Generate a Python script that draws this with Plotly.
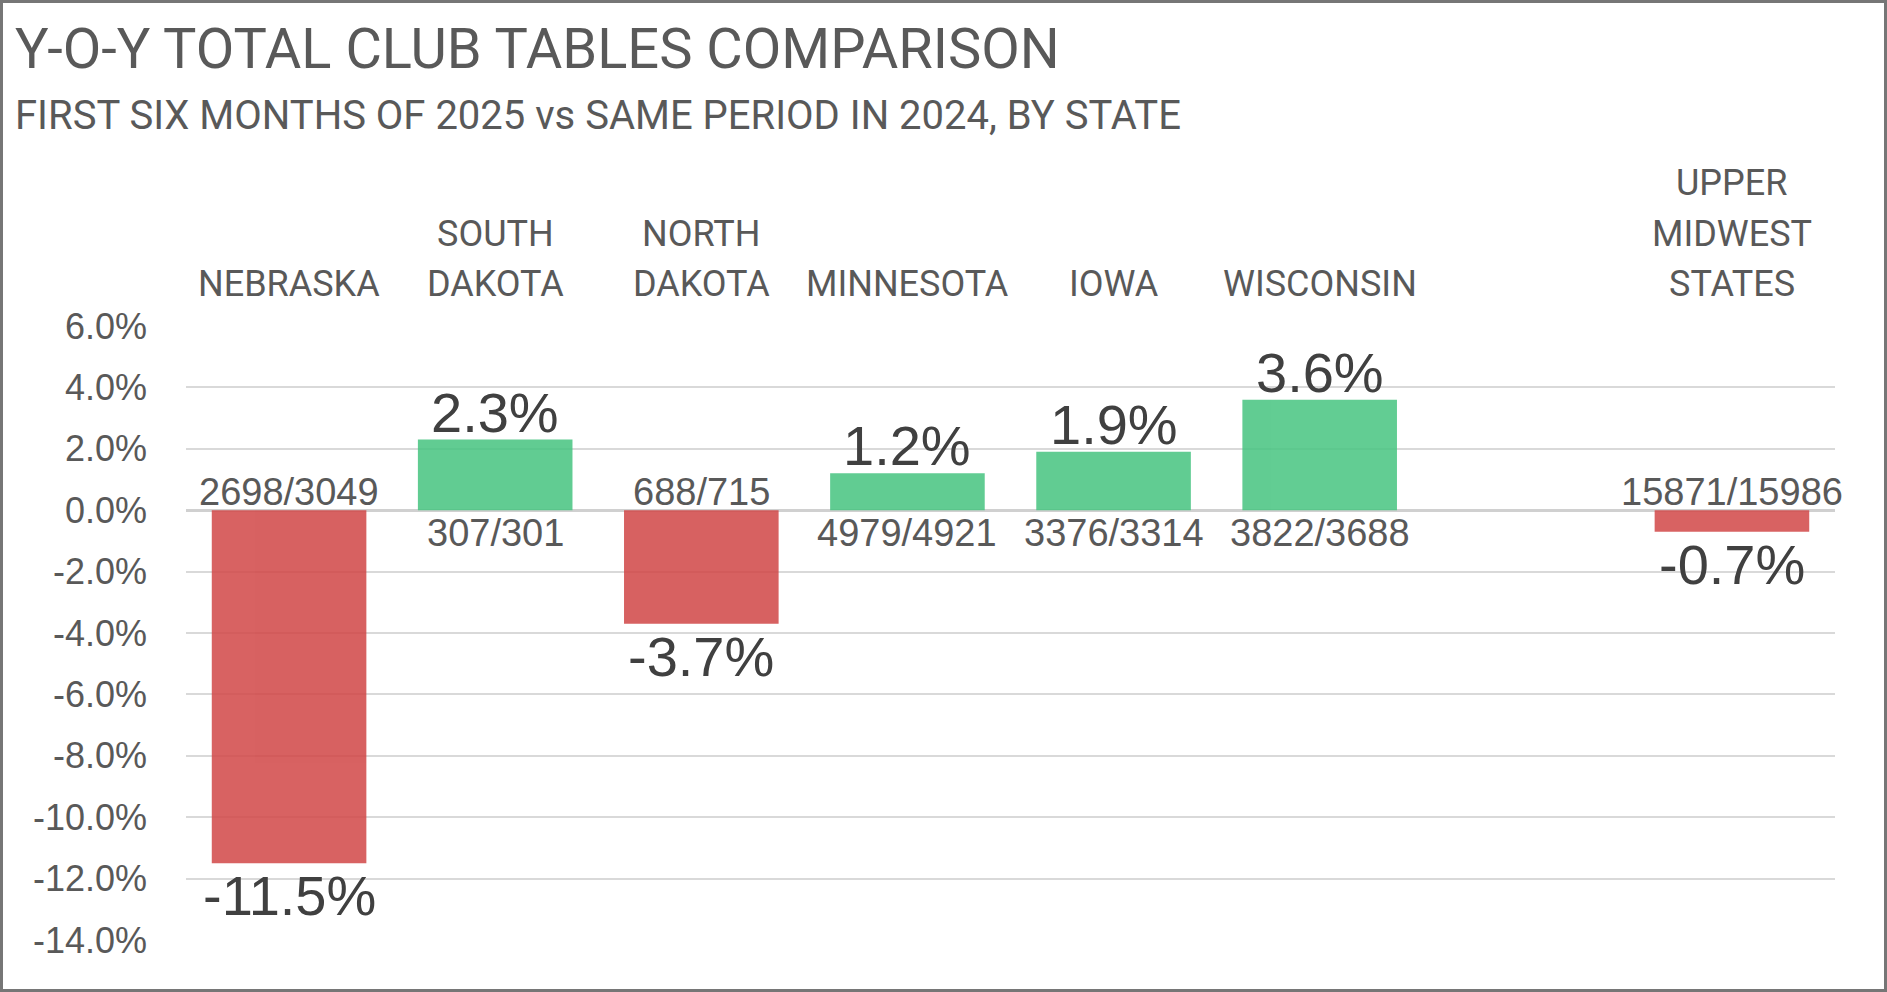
import plotly.graph_objects as go

# data
states = ["NEBRASKA", "SOUTH<br>DAKOTA", "NORTH<br>DAKOTA", "MINNESOTA", "IOWA", "WISCONSIN",
          "UPPER<br>MIDWEST<br>STATES"]
yoy_pct = [-11.5, 2.3, -3.7, 1.2, 1.9, 3.6, -0.7]
tables_2025 = [2698, 307, 688, 4979, 3376, 3822, 15871]
tables_2024 = [3049, 301, 715, 4921, 3314, 3688, 15986]
# one empty slot between WISCONSIN and the total
slots = states[:6] + [" "] + states[6:]
tick_vals = [6, 4, 2, 0, -2, -4, -6, -8, -10, -12, -14]
tick_text = ["%.1f%%" % v for v in tick_vals]

W, H = 1887, 992
ML, MR, MT, MB = 186, 52, 326, 52
PW, PH = W - ML - MR, H - MT - MB

GREEN = "rgb(70,196,128)"
RED = "rgb(209,70,70)"
GREY = "#595959"
DARK = "#404040"
SANS = "Liberation Sans, Arial, sans-serif"
NARROW = "Roboto, sans-serif"

colors = [GREEN if v >= 0 else RED for v in yoy_pct]

fig = go.Figure()
fig.add_trace(go.Bar(x=states, y=yoy_pct, marker=dict(color=colors, line=dict(width=0)),
                     opacity=0.85, width=0.75, hoverinfo="skip", showlegend=False))

def px_to_paper_y(py):
    return (H - MB - py) / PH

def px_to_paper_x(px):
    return (px - ML) / PW

ann = []
# category names above the plot, one annotation per line (wider line spacing than plotly's)
for s in states:
    lines = s.split("<br>")
    for i, ln in enumerate(reversed(lines)):
        ann.append(dict(x=s, xref="x", y=1, yref="paper", yanchor="bottom", xanchor="center",
                        yshift=19 + i * 50.5, text=ln, showarrow=False,
                        font=dict(family=NARROW, size=36, color=GREY)))
# percentage labels at bar ends, counts at the base
for s, v, a, b in zip(states, yoy_pct, tables_2025, tables_2024):
    pos = v >= 0
    ann.append(dict(x=s, y=v, xref="x", yref="y", showarrow=False,
                    yanchor="bottom" if pos else "top", yshift=-6 if pos else 1,
                    text="%.1f%%" % v, font=dict(family=SANS, size=56, color=DARK)))
    ann.append(dict(x=s, y=0, xref="x", yref="y", showarrow=False,
                    yanchor="top" if pos else "bottom", yshift=0 if pos else -5,
                    text="%d/%d" % (a, b), font=dict(family=SANS, size=38, color=GREY)))

ann.append(dict(x=px_to_paper_x(13), y=px_to_paper_y(84), xref="paper", yref="paper",
                xanchor="left", yanchor="bottom", showarrow=False,
                text="Y-O-Y TOTAL CLUB TABLES COMPARISON",
                font=dict(family=NARROW, size=56, color=GREY)))
ann.append(dict(x=px_to_paper_x(13), y=px_to_paper_y(141), xref="paper", yref="paper",
                xanchor="left", yanchor="bottom", showarrow=False,
                text="FIRST SIX MONTHS OF 2025 vs SAME PERIOD IN 2024, BY STATE",
                font=dict(family=NARROW, size=40, color=GREY)))

fig.update_layout(
    width=W, height=H,
    margin=dict(l=ML, r=MR, t=MT, b=MB),
    paper_bgcolor="white", plot_bgcolor="white",
    annotations=ann,
    shapes=[dict(type="rect", xref="paper", yref="paper",
                 x0=px_to_paper_x(1.5), x1=px_to_paper_x(W - 1.5),
                 y0=px_to_paper_y(H - 1.5), y1=px_to_paper_y(1.5),
                 line=dict(color="#767676", width=3), layer="above")],
    xaxis=dict(categoryorder="array", categoryarray=slots, range=[-0.5, len(slots) - 0.5],
               showticklabels=False, showgrid=False, zeroline=False, showline=False, ticks=""),
    yaxis=dict(range=[-14, 6], tickvals=tick_vals, ticktext=tick_text,
               tickfont=dict(family=SANS, size=36, color=GREY), ticklabelstandoff=38,
               showgrid=True, gridcolor="#d9d9d9", gridwidth=2,
               zeroline=True, zerolinecolor="#d0d0d0", zerolinewidth=3,
               showline=False, ticks=""),
)

fig.write_html("out.html", config={"displayModeBar": False},
               post_script="document.body.style.margin='0';document.body.style.overflow='hidden';")
